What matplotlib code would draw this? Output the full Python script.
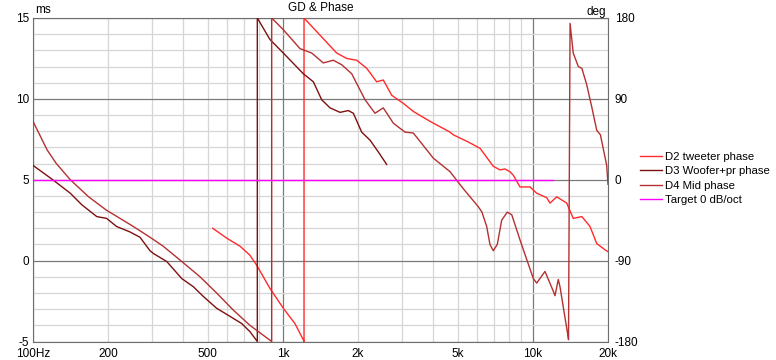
import numpy as np
import matplotlib
matplotlib.use("Agg")
import matplotlib.pyplot as plt
from matplotlib.ticker import FixedLocator, FixedFormatter

plt.rcParams['font.family'] = ['Liberation Sans', 'DejaVu Sans']
plt.rcParams['axes.unicode_minus'] = False

# phase data, frequency in Hz and phase in degrees (wraps at +/-180)
tweeter_f = [524, 596, 674, 738, 785, 888, 1004, 1117, 1207, 1215, 1215, 1407, 1642, 1800,
             1974, 2165, 2373, 2522, 2725, 3034, 3327, 3880, 4125, 4665, 4808, 5520, 6150,
             6950, 7390, 7740, 8100, 8360, 8891, 9750, 10370, 11370, 11720, 12470, 13670,
             14520, 15720, 16940, 18030, 19460, 20000]
tweeter_ph = [-54, -65, -74, -84, -95, -121, -143, -160, -178, -180, 180, 161, 141, 135,
              133, 124, 109, 111, 94, 85, 76, 65, 61, 53, 50, 42, 35,
              15, 11, 12, 9, 5, -8, -8, -15, -20, -26, -19, -26,
              -43, -41, -52, -71, -78, -80]

woofer_f = [100, 120, 141, 157, 180, 197, 216, 244, 268, 294, 303, 343, 394, 438, 481, 543,
            614, 684, 738, 790, 790, 888, 1004, 1207, 1324, 1430, 1544, 1693, 1827, 1914,
            2067, 2233, 2409, 2602]
woofer_ph = [16, 0, -15, -28, -41, -43, -52, -58, -64, -79, -82, -91, -110, -119, -130, -143,
             -152, -160, -169, -180, 180, 156, 141, 118, 109, 89, 80, 75, 77, 74,
             53, 44, 31, 17]

mid_f = [100, 114, 124, 141, 167, 197, 223, 252, 294, 332, 390, 466, 543, 633, 738, 902, 902,
         1004, 1170, 1304, 1452, 1591, 1719, 1885, 2132, 2337, 2522, 2766, 3081, 3327, 4000,
         4665, 5272, 6053, 6260, 6540, 6740, 6950, 7210, 7510, 7907, 8240, 8891, 10050, 10370,
         11190, 12080, 12270, 12650, 12850, 13870, 13900, 14100, 14520, 15210, 15720, 16430,
         17220, 18030, 18650, 19760, 20000]
mid_ph = [65, 33, 18, 0, -19, -34, -43, -52, -64, -74, -90, -108, -126, -145, -162, -180, 180,
          167, 146, 141, 130, 133, 128, 118, 89, 74, 80, 63, 53, 52, 24,
          9, -10, -30, -36, -52, -72, -79, -72, -45, -36, -39, -67, -110, -115,
          -102, -124, -129, -111, -119, -176, -178, 174, 141, 126, 124, 106,
          81, 55, 50, 16, -5]

target_f = [100, 12000]
target_ph = [0, 0]

labels = ["D2 tweeter phase", "D3 Woofer+pr phase", "D4 Mid phase", "Target 0 dB/oct"]
colors = ["#ff2a2a", "#7d1010", "#b53030", "#ff00ff"]

fig = plt.figure(figsize=(7.76, 3.6), dpi=100)
ax = fig.add_axes([33 / 776, 1 - 341.5 / 360, 575 / 776, 323.5 / 360])
ax2 = ax.twinx()

# left axis: group delay in ms (only grid + labels)
ax.set_xscale("log")
ax.set_xlim(100, 20000)
ax.set_ylim(-5, 15)
ax.yaxis.set_major_locator(FixedLocator([-5, 0, 5, 10, 15]))
ax.yaxis.set_minor_locator(FixedLocator(np.arange(-5, 16, 1)))
ax.xaxis.set_major_locator(FixedLocator([100, 1000, 10000]))
ax.xaxis.set_major_formatter(FixedFormatter(["100Hz", "1k", "10k"]))
minor_x = [200, 300, 400, 500, 600, 700, 800, 900,
           2000, 3000, 4000, 5000, 6000, 7000, 8000, 9000, 20000]
minor_lab = ["200", "", "", "500", "", "", "", "",
             "2k", "", "", "5k", "", "", "", "", "20k"]
ax.xaxis.set_minor_locator(FixedLocator(minor_x))
ax.xaxis.set_minor_formatter(FixedFormatter(minor_lab))
ax.grid(which="major", color="#7a7a7a", lw=0.9)
ax.grid(which="minor", color="#d6d6d6", lw=0.9)
ax.set_axisbelow(True)
ax.tick_params(axis="y", which="both", length=0, labelsize=8.5, pad=3)
ax.tick_params(axis="x", which="both", length=0, labelsize=8.5, pad=5)
for s in ax.spines.values():
    s.set_color("#6e6e6e")

# right axis: phase in degrees
ax2.set_ylim(-180, 180)
ax2.set_yticks([-180, -90, 0, 90, 180])
ax2.tick_params(length=0, labelsize=8.5, pad=5)
for s in ax2.spines.values():
    s.set_visible(False)

ax2.plot(tweeter_f, tweeter_ph, color=colors[0], lw=1.0, label=labels[0])
ax2.plot(woofer_f, woofer_ph, color=colors[1], lw=1.0, label=labels[1])
ax2.plot(mid_f, mid_ph, color=colors[2], lw=1.0, label=labels[2])
ax2.plot(target_f, target_ph, color=colors[3], lw=1.0, label=labels[3])
ax2.set_xlim(100, 20000)

fig.text(320.5 / 776, 1 - 8 / 360, "GD & Phase", ha="center", va="center", fontsize=8.5)
fig.text(35 / 776, 1 - 10 / 360, "ms", ha="left", va="center", fontsize=8.5)
fig.text(606 / 776, 1 - 12 / 360, "deg", ha="right", va="center", fontsize=8.5)

fig.legend(loc="upper left", bbox_to_anchor=(640 / 776, 1 - 152 / 360), frameon=False,
           fontsize=8.2, handlelength=1.9, handletextpad=0.3, labelspacing=0.38,
           borderaxespad=0, borderpad=0)

fig.savefig("out.png", dpi=100)
